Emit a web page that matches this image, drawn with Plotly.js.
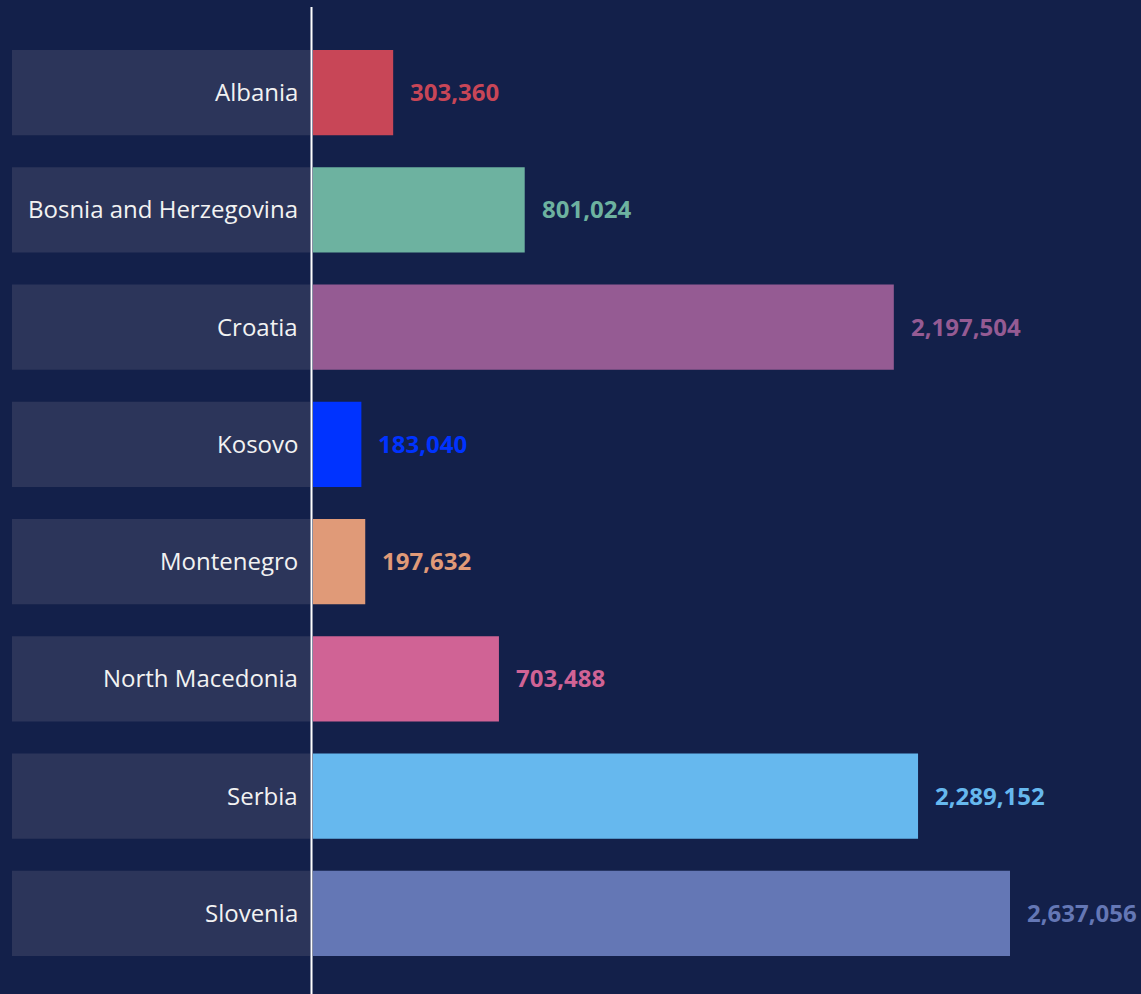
<!DOCTYPE html>
<html>
<head>
<meta charset="utf-8">
<script src="https://cdn.plot.ly/plotly-3.0.1.min.js"></script>
<style>
html,body{margin:0;padding:0;background:#13204a;}
#chart{width:1141px;height:994px;}
</style>
</head>
<body>
<div id="chart"></div>
<script>
const countries = ["Albania","Bosnia and Herzegovina","Croatia","Kosovo","Montenegro","North Macedonia","Serbia","Slovenia"];
const values = [303360, 801024, 2197504, 183040, 197632, 703488, 2289152, 2637056];
const colors = ["#c84657","#6db2a0","#955b93","#0033ff","#e09a78","#d06395","#66b8ee","#6477b5"];

const W = 1141, H = 994;
const ML = 313, MR = 0, MT = 34, MB = 22;
const plotW = W - ML - MR, plotH = H - MT - MB;
const pxPerUnit = 697 / 2637056;
const xmax = plotW / pxPerUnit;

const fmt = v => v.toLocaleString('en-US');

const trace = {
  type: 'bar',
  orientation: 'h',
  y: countries,
  x: values,
  marker: {color: colors},
  hoverinfo: 'none'
};

const halfBar = (1 - 0.275) / 2;
const shapes = [];
const annotations = [];
countries.forEach((c, i) => {
  shapes.push({
    type: 'rect', xref: 'paper', yref: 'y',
    x0: (12 - ML) / plotW, x1: (310 - ML) / plotW,
    y0: i - halfBar, y1: i + halfBar,
    fillcolor: '#2c355a', line: {width: 0}, layer: 'below'
  });
  annotations.push({
    xref: 'paper', yref: 'y', x: (300 - ML) / plotW, y: c, yshift: 1,
    text: c, showarrow: false, xanchor: 'right', yanchor: 'middle',
    font: {family: 'Open Sans', size: 24, color: '#f2f2f2'}
  });
  annotations.push({
    xref: 'x', yref: 'y', x: values[i], y: c, xshift: 15, yshift: 1,
    text: '<b>' + fmt(values[i]) + '</b>', showarrow: false,
    xanchor: 'left', yanchor: 'middle',
    font: {family: 'Open Sans', size: 24, color: colors[i]}
  });
});
shapes.push({
  type: 'line', xref: 'paper', yref: 'paper',
  x0: -1.5 / plotW, x1: -1.5 / plotW,
  y0: -MB / plotH, y1: 1 + 27 / plotH,
  line: {color: '#ffffff', width: 2}
});

const layout = {
  width: W, height: H,
  margin: {l: ML, r: MR, t: MT, b: MB, pad: 0},
  paper_bgcolor: '#13204a',
  plot_bgcolor: '#13204a',
  bargap: 0.275,
  showlegend: false,
  xaxis: {range: [0, xmax], visible: false, fixedrange: true},
  yaxis: {autorange: false, range: [7.5, -0.5], showticklabels: false, showgrid: false, zeroline: false, ticks: '', fixedrange: true},
  shapes: shapes,
  annotations: annotations
};

Plotly.newPlot('chart', [trace], layout, {displayModeBar: false, staticPlot: true});
</script>
</body>
</html>
